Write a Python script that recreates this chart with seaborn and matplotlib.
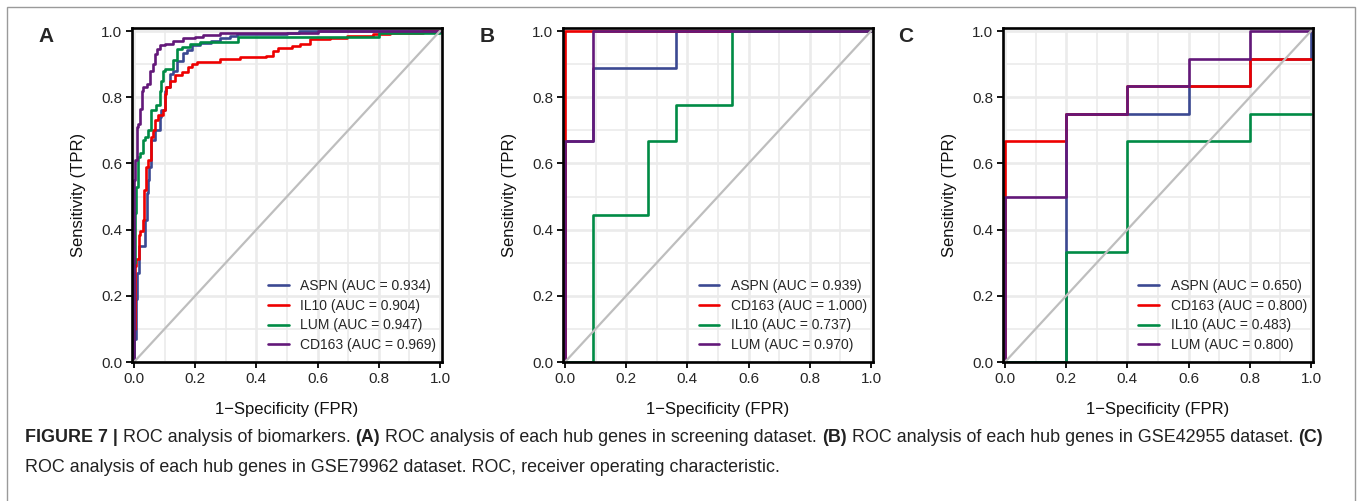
import matplotlib
matplotlib.use("Agg")
import matplotlib.pyplot as plt
from matplotlib.patches import Rectangle
from matplotlib.ticker import MultipleLocator
import pandas as pd
import seaborn as sns

# ---------------- data ----------------
# Each curve is a list of step corners (drawn with steps-pre: up first, then right)

# Panel A - screening dataset
a_genes = ["ASPN", "IL10", "LUM", "CD163"]
a_auc = [0.934, 0.904, 0.947, 0.969]
a_aspn_fpr = [0, 0.006, 0.011, 0.017, 0.036, 0.041, 0.045, 0.050, 0.055, 0.067, 0.084, 0.089,
              0.100, 0.106, 0.118, 0.129, 0.140, 0.160, 0.172, 0.188, 0.216, 0.250, 0.281,
              0.314, 0.336, 0.500, 0.540, 1.0]
a_aspn_tpr = [0, 0.07, 0.19, 0.27, 0.35, 0.43, 0.51, 0.55, 0.59, 0.67, 0.70, 0.74,
              0.76, 0.82, 0.83, 0.87, 0.88, 0.91, 0.935, 0.942, 0.957, 0.965, 0.970,
              0.978, 0.985, 0.990, 0.995, 1.0]
a_il10_fpr = [0, 0.004, 0.007, 0.015, 0.018, 0.029, 0.032, 0.040, 0.046, 0.057, 0.062, 0.068,
              0.078, 0.095, 0.100, 0.106, 0.118, 0.134, 0.156, 0.177, 0.188, 0.205, 0.281,
              0.346, 0.433, 0.455, 0.472, 0.515, 0.542, 0.575, 0.641, 0.695, 0.782, 0.837,
              0.945, 1.0]
a_il10_tpr = [0, 0.10, 0.29, 0.31, 0.385, 0.395, 0.43, 0.52, 0.59, 0.61, 0.68, 0.70,
              0.73, 0.745, 0.76, 0.81, 0.83, 0.85, 0.866, 0.876, 0.891, 0.901, 0.906,
              0.915, 0.92, 0.925, 0.94, 0.95, 0.955, 0.96, 0.976, 0.98, 0.986, 0.991,
              0.993, 1.0]
a_lum_fpr = [0, 0.003, 0.005, 0.013, 0.019, 0.029, 0.035, 0.046, 0.054, 0.057, 0.073, 0.084,
             0.087, 0.096, 0.101, 0.129, 0.140, 0.156, 0.183, 0.216, 0.281, 0.340, 0.800, 1.0, 1.0]
a_lum_tpr = [0, 0.30, 0.45, 0.53, 0.62, 0.63, 0.67, 0.68, 0.70, 0.75, 0.76, 0.775,
             0.82, 0.85, 0.88, 0.886, 0.912, 0.947, 0.952, 0.962, 0.966, 0.966, 0.981, 0.995, 1.0]
a_cd163_fpr = [0, 0.003, 0.009, 0.014, 0.020, 0.025, 0.030, 0.041, 0.052, 0.063, 0.070, 0.074,
               0.085, 0.101, 0.129, 0.161, 0.200, 0.227, 0.281, 0.600, 1.0]
a_cd163_tpr = [0, 0.55, 0.61, 0.71, 0.72, 0.765, 0.82, 0.83, 0.84, 0.88, 0.90, 0.93,
               0.947, 0.957, 0.962, 0.970, 0.978, 0.983, 0.988, 0.995, 1.0]

# Panel B - GSE42955 (11 controls, 9 cases)
b_genes = ["ASPN", "CD163", "IL10", "LUM"]
b_auc = [0.939, 1.000, 0.737, 0.970]
b_aspn_fpr = [0, 1/11, 4/11, 1.0]
b_aspn_tpr = [0, 6/9, 8/9, 1.0]
b_cd163_fpr = [0, 1/11, 1.0]
b_cd163_tpr = [0, 1.0, 1.0]
b_il10_fpr = [0, 1/11, 3/11, 4/11, 6/11, 1.0]
b_il10_tpr = [0, 0, 4/9, 6/9, 7/9, 1.0]
b_lum_fpr = [0, 1/11, 1.0]
b_lum_tpr = [0, 6/9, 1.0]

# Panel C - GSE79962 (5 controls, 12 cases)
c_genes = ["ASPN", "CD163", "IL10", "LUM"]
c_auc = [0.650, 0.800, 0.483, 0.800]
c_aspn_fpr = [0, 0.2, 0.4, 0.6, 0.8, 1.0, 1.0]
c_aspn_tpr = [0, 0, 9/12, 9/12, 10/12, 11/12, 1.0]
c_cd163_fpr = [0, 0.2, 0.4, 0.6, 0.8, 1.0]
c_cd163_tpr = [0, 8/12, 9/12, 10/12, 10/12, 11/12]
c_il10_fpr = [0, 0.2, 0.4, 0.6, 0.8, 1.0]
c_il10_tpr = [0, 0, 4/12, 8/12, 8/12, 9/12]
c_lum_fpr = [0, 0.2, 0.4, 0.6, 0.8, 1.0]
c_lum_tpr = [0, 6/12, 9/12, 10/12, 11/12, 1.0]

a_colors = ["#3B4992", "#EE0000", "#008B45", "#631879"]
bc_colors = ["#3B4992", "#EE0000", "#008B45", "#631879"]

sns.set_style("white")
plt.rcParams["font.family"] = ["Liberation Sans", "DejaVu Sans"]

fig = plt.figure(figsize=(13.6, 5.01), dpi=100)
W, H = 1360, 501


def add_axes(left_px):
    return fig.add_axes([left_px / W, (H - 362) / H, 310 / W, 334 / H])


def draw_panel(ax, genes, aucs, curves, colors):
    labels = [f"{g} (AUC = {a:.3f})" for g, a in zip(genes, aucs)]
    frames = []
    for lab, (fpr, tpr) in zip(labels, curves):
        frames.append(pd.DataFrame({"fpr": fpr, "tpr": tpr, "gene": lab}))
    df = pd.concat(frames, ignore_index=True)
    sns.lineplot(data=df, x="fpr", y="tpr", hue="gene", hue_order=labels,
                 palette=dict(zip(labels, colors)), sort=False, estimator=None,
                 drawstyle="steps-pre", linewidth=1.9, ax=ax)
    ax.plot([0, 1], [0, 1], color="#BEBEBE", lw=1.6, zorder=3)

    ax.set_xlim(-2 / 306, 1 + 2 / 306)
    ax.set_ylim(0, 1 + 3 / 329)
    ax.xaxis.set_major_locator(MultipleLocator(0.2))
    ax.yaxis.set_major_locator(MultipleLocator(0.2))
    ax.xaxis.set_minor_locator(MultipleLocator(0.1))
    ax.yaxis.set_minor_locator(MultipleLocator(0.1))
    ax.set_axisbelow(True)
    ax.grid(which="major", color="#EBEBEB", lw=1.9)
    ax.grid(which="minor", color="#EBEBEB", lw=1.2)
    ax.tick_params(which="major", direction="out", length=4, width=1.3, color="black",
                   labelsize=11, labelcolor="#262626", pad=3, left=True, bottom=True)
    ax.tick_params(which="minor", length=0)
    ax.xaxis.set_major_formatter(lambda v, p: f"{v:.1f}")
    ax.yaxis.set_major_formatter(lambda v, p: f"{v:.1f}")
    for sp in ax.spines.values():
        sp.set_color("black")
        sp.set_linewidth(1.9)
        sp.set_zorder(4)
    ax.set_xlabel("1\u2212Specificity (FPR)", fontsize=12, color="#111111", labelpad=12)
    ax.set_ylabel("Sensitivity (TPR)", fontsize=12, color="#111111", labelpad=11)
    ax.legend(loc="lower right", bbox_to_anchor=(1.0, 4.5 / 334), frameon=False,
              fontsize=10, handlelength=1.5, handletextpad=0.86, labelspacing=0.4,
              borderaxespad=0.0, borderpad=0.4)


ax_a = add_axes(132)
draw_panel(ax_a, a_genes, a_auc,
           [(a_aspn_fpr, a_aspn_tpr), (a_il10_fpr, a_il10_tpr),
            (a_lum_fpr, a_lum_tpr), (a_cd163_fpr, a_cd163_tpr)], a_colors)
ax_b = add_axes(563)
draw_panel(ax_b, b_genes, b_auc,
           [(b_aspn_fpr, b_aspn_tpr), (b_cd163_fpr, b_cd163_tpr),
            (b_il10_fpr, b_il10_tpr), (b_lum_fpr, b_lum_tpr)], bc_colors)
ax_c = add_axes(1003)
draw_panel(ax_c, c_genes, c_auc,
           [(c_aspn_fpr, c_aspn_tpr), (c_cd163_fpr, c_cd163_tpr),
            (c_il10_fpr, c_il10_tpr), (c_lum_fpr, c_lum_tpr)], bc_colors)

for letter, xp in [("A", 46), ("B", 487), ("C", 906)]:
    fig.text(xp / W, 1 - 37 / H, letter, fontsize=15, fontweight="bold",
             ha="center", va="center")

# outer frame
fig.add_artist(Rectangle((7 / W, -0.02), (1355 - 7) / W, 1 - 7 / H + 0.02,
                         transform=fig.transFigure, fill=False,
                         edgecolor="#9A9A9A", lw=1.0))

# caption with bold pieces
caption = [
    [("FIGURE 7 |", "bold"), (" ROC analysis of biomarkers. ", "normal"), ("(A)", "bold"),
     (" ROC analysis of each hub genes in screening dataset. ", "normal"), ("(B)", "bold"),
     (" ROC analysis of each hub genes in GSE42955 dataset. ", "normal"), ("(C)", "bold")],
    [("ROC analysis of each hub genes in GSE79962 dataset. ROC, receiver operating characteristic.",
      "normal")],
]
renderer = fig.canvas.get_renderer()
cap_size = 12.9


def text_w(s, weight):
    t = fig.text(0, 0, s, fontsize=cap_size, fontweight=weight)
    w = t.get_window_extent(renderer).width
    t.remove()
    return w


space_w = text_w("a a", "normal") - text_w("aa", "normal")
for row, y_px in zip(caption, [438, 468]):
    x = 25.0
    for piece, weight in row:
        lead = len(piece) - len(piece.lstrip(" "))
        trail = len(piece) - len(piece.rstrip(" "))
        core = piece.strip(" ")
        x += lead * space_w
        fig.text(x / W, 1 - y_px / H, core, fontsize=cap_size, fontweight=weight,
                 color="#222222", ha="left", va="center")
        x += text_w(core, weight) + trail * space_w

fig.savefig("out.png", dpi=100)
